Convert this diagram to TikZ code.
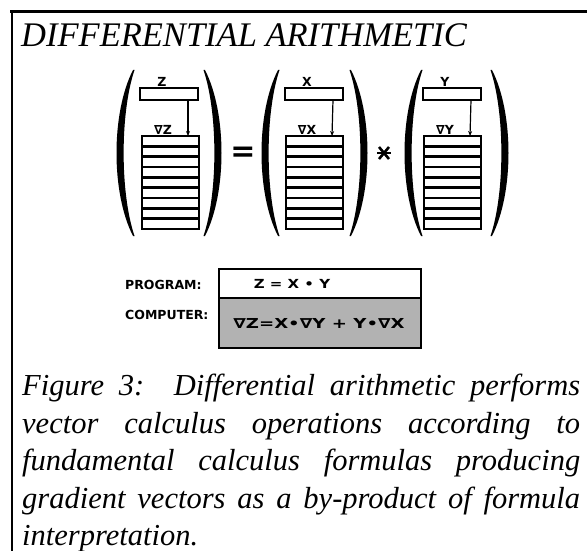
\documentclass[tikz,border=0pt]{standalone}
\usepackage{fontspec}
\setmainfont{Liberation Serif}
\newfontfamily\chic{DejaVu Sans}
\usetikzlibrary{arrows.meta}
\tikzset{
  lpar/.pic={\fill (0,-83) .. controls (-22,-40) and (-22,40) .. (0,83) -- (1.5,83) .. controls (-13,40) and (-13,-40) .. (1.5,-83) -- cycle;},
  rpar/.pic={\fill (0,-83) .. controls (22,-40) and (22,40) .. (0,83) -- (-1.5,83) .. controls (13,40) and (13,-40) .. (-1.5,-83) -- cycle;},
  lbox/.style={draw,line width=1.6pt,minimum width=58pt,minimum height=12pt,inner sep=0pt,outer sep=0pt},
  stackbox/.style={draw,line width=1.6pt,minimum width=57pt,minimum height=93pt,inner sep=0pt,outer sep=0pt},
  varlbl/.style={font=\chic\bfseries\fontsize{12.5}{12.5}\selectfont,inner sep=0pt},
  feed/.style={line width=1.2pt,-{Stealth[length=5pt,width=4pt]}},
  panel/.style={font=\chic\bfseries\fontsize{12.5}{12.5}\selectfont,inner sep=0pt},
}
\newcommand{\varcol}[4]{%
  % #1 name prefix, #2 box left x, #3 stack left x, #4 variable letter
  \node[lbox,anchor=north west] (#1b) at (#2,88) {};
  \node[stackbox,anchor=north west] (#1s) at (#3,136) {};
  \node[varlbl,anchor=south] (#1l) at ([xshift=22pt,yshift=1pt]#1b.north west) {#4};
  \node[varlbl,anchor=south] (#1g) at ([xshift=21pt,yshift=1pt]#1s.north west) {∇#4};
  \draw[feed] ([xshift=-10pt]#1b.south east) -- ([xshift=-11pt]#1s.north east);
  \foreach \i in {1,...,8} {\draw[line width=2.6pt] ([yshift=-\i*10.33pt]#1s.north west) -- ([yshift=-\i*10.33pt]#1s.north east);}
}
\begin{document}
\begin{tikzpicture}[x=1pt,y=-1pt]
\useasboundingbox (0,0) rectangle (587,551);
% frame
\coordinate (ftr) at (587,11.5);
\coordinate (ftl) at (10,11.5);
\coordinate (fbl) at (12,551);
\draw[line width=2.5pt] (ftl) -- (ftr);
\draw[line width=2pt] (12,10.5) -- (fbl);
% title
\node[anchor=base west,inner sep=0pt,font=\itshape\fontsize{34.5}{34.5}\selectfont] (title) at (21,47) {DIFFERENTIAL ARITHMETIC};
% columns
\varcol{z}{140}{142}{Z}
\varcol{x}{285}{286}{X}
\varcol{y}{423}{424}{Y}
% parentheses
\pic at (133,153) {lpar};
\pic at (205,153) {rpar};
\pic at (278,153) {lpar};
\pic at (351,153) {rpar};
\pic at (421,153) {lpar};
\pic at (492,153) {rpar};
% operators
\node[font=\chic\bfseries\fontsize{30}{30}\selectfont,inner sep=0pt] (eq) at (243,154) {=};
\coordinate (star) at (384,153);
\draw[line width=2.6pt] ([xshift=-7pt]star) -- ([xshift=7pt]star);
\draw[line width=2.6pt] ([xshift=-5pt,yshift=6pt]star) -- ([xshift=5pt,yshift=-6pt]star);
\draw[line width=2.6pt] ([xshift=-5pt,yshift=-6pt]star) -- ([xshift=5pt,yshift=6pt]star);
% program / computer panel
\node[draw,line width=1.6pt,minimum width=202pt,minimum height=29pt,anchor=north west,inner sep=0pt] (prog) at (218,268) {};
\node[draw,line width=1.6pt,fill=black!30,minimum width=202pt,minimum height=50pt,anchor=north west,inner sep=0pt] (comp) at (218,297) {};
\node[panel] (progtxt) at (292,284) {\scalebox{1.2}[1]{Z = X • Y}};
\node[panel] (comptxt) at (319,323) {\scalebox{1.45}[1.1]{∇Z=X•∇Y + Y•∇X}};
\node[panel,anchor=west] (proglbl) at (125,285) {PROGRAM:};
\node[panel,anchor=west] (complbl) at (125,315) {COMPUTER:};
% caption
\node[anchor=north west,inner sep=0pt,text width=558pt,align=justify,font=\itshape\fontsize{30.5}{37.5}\selectfont] (cap) at (22,374)
{Figure 3:\ \ Differential arithmetic performs\linebreak vector calculus operations according to\linebreak fundamental calculus formulas producing\linebreak gradient vectors as a by-product of formula\linebreak interpretation.};
\end{tikzpicture}
\end{document}
